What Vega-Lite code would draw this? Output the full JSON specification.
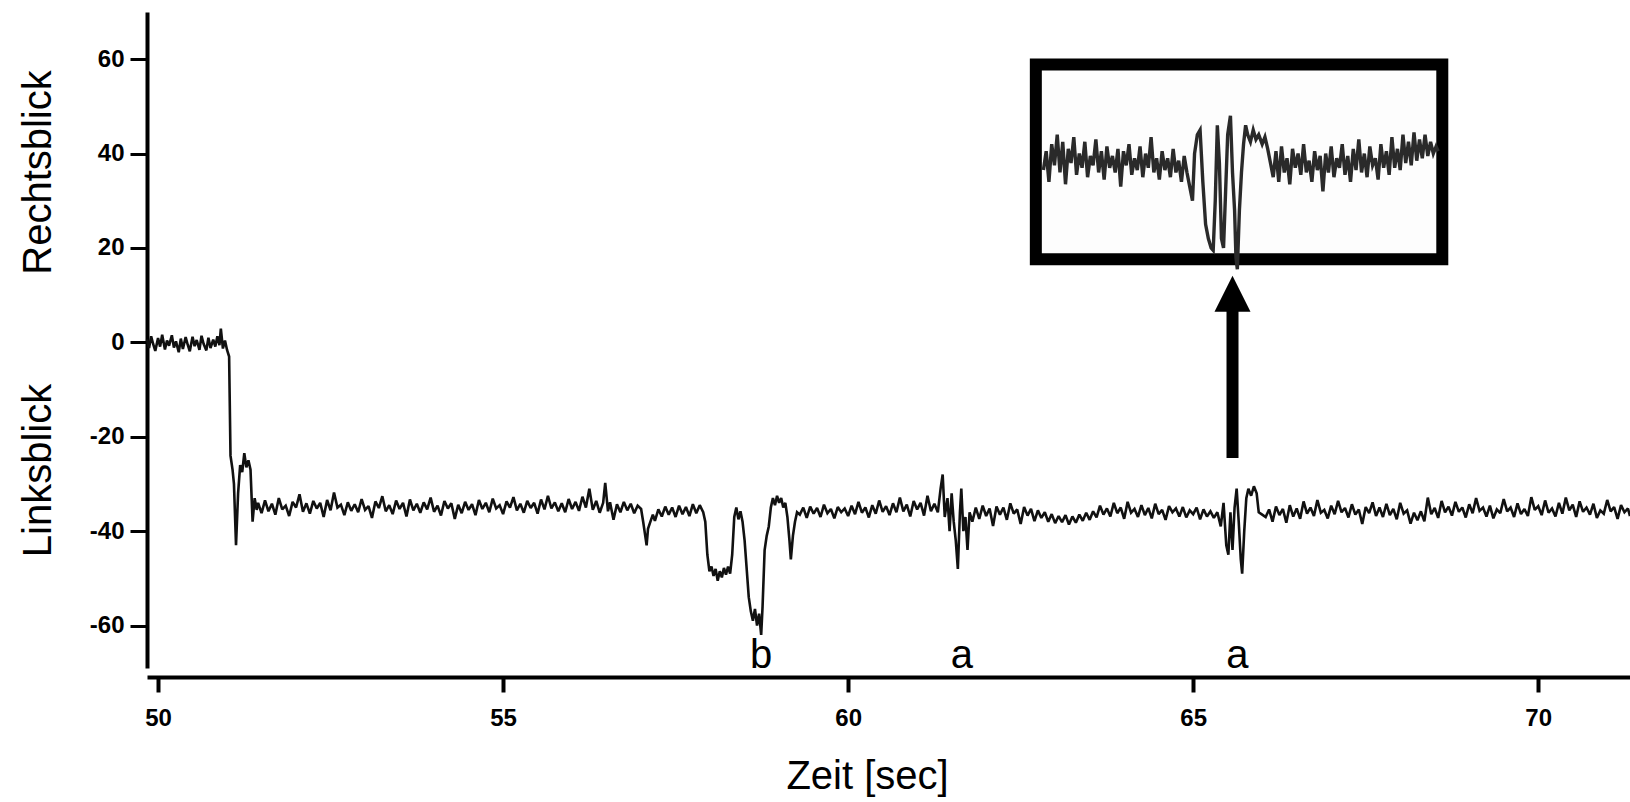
{
  "$schema": "https://vega.github.io/schema/vega-lite/v6.json",
  "width": 1483,
  "height": 656,
  "autosize": {"type": "none"},
  "padding": {"left": 147, "top": 12, "right": 0, "bottom": 134},
  "background": "white",
  "config": {
    "view": {"stroke": null},
    "axis": {"grid": false, "domainColor": "#000", "tickColor": "#000", "labelColor": "#000", "titleColor": "#000"},
    "axisX": {
      "offset": 9, "domainWidth": 4, "tickSize": 15, "tickWidth": 4,
      "labelFont": "Liberation Sans", "labelFontWeight": "bold", "labelFontSize": 24, "labelPadding": 14, "labelFlush": false,
      "titleFont": "Liberation Sans", "titleFontWeight": "normal", "titleFontSize": 40,
      "titleX": 720, "titleY": 111, "titleAlign": "center", "titleBaseline": "alphabetic"
    }
  },
  "datasets": {
    "main": [
      {"t":49.84,"v":0.6},{"t":49.87,"v":-1.2},{"t":49.9,"v":1.3},{"t":49.93,"v":-0.4},{"t":49.96,"v":-1.8},{"t":50.0,"v":0.9},{"t":50.03,"v":-0.9},{"t":50.06,"v":1.6},{"t":50.1,"v":-1.5},{"t":50.13,"v":0.4},{"t":50.16,"v":-0.7},{"t":50.2,"v":1.5},{"t":50.23,"v":-1.1},{"t":50.26,"v":0.2},{"t":50.3,"v":-2.1},{"t":50.33,"v":0.8},{"t":50.36,"v":-1.4},{"t":50.4,"v":1.1},{"t":50.43,"v":-0.5},{"t":50.46,"v":-1.9},{"t":50.5,"v":1.2},{"t":50.53,"v":-0.8},{"t":50.56,"v":0.5},{"t":50.6,"v":-1.6},{"t":50.63,"v":1.4},{"t":50.66,"v":-0.3},{"t":50.7,"v":-1.7},{"t":50.73,"v":1.0},{"t":50.76,"v":-1.2},{"t":50.8,"v":0.6},{"t":50.83,"v":-0.9},{"t":50.86,"v":1.3},{"t":50.89,"v":-0.6},{"t":50.91,"v":2.9},{"t":50.94,"v":-1.3},{"t":50.97,"v":0.4},{"t":51.0,"v":-1.6},
      {"t":51.03,"v":-3},{"t":51.05,"v":-24},{"t":51.08,"v":-27},{"t":51.1,"v":-30},{"t":51.13,"v":-43},{"t":51.16,"v":-32},{"t":51.19,"v":-26},{"t":51.22,"v":-27.5},{"t":51.25,"v":-23.5},{"t":51.28,"v":-26.5},{"t":51.31,"v":-25},{"t":51.34,"v":-27},{"t":51.37,"v":-38},{"t":51.4,"v":-33},{"t":51.43,"v":-35.5},
      {"t":51.45,"v":-34.0},{"t":51.5,"v":-36.2},{"t":51.55,"v":-33.5},{"t":51.6,"v":-35.8},{"t":51.65,"v":-34.2},{"t":51.7,"v":-36.5},{"t":51.75,"v":-33.0},{"t":51.8,"v":-35.4},{"t":51.85,"v":-34.6},{"t":51.9,"v":-36.8},{"t":51.95,"v":-33.8},{"t":52.0,"v":-35.0},{"t":52.05,"v":-32.2},{"t":52.1,"v":-35.9},{"t":52.15,"v":-34.1},{"t":52.2,"v":-36.3},{"t":52.25,"v":-33.6},{"t":52.3,"v":-35.2},{"t":52.35,"v":-34.0},{"t":52.4,"v":-37.0},{"t":52.45,"v":-33.4},{"t":52.5,"v":-35.6},{"t":52.55,"v":-31.8},{"t":52.6,"v":-35.0},{"t":52.65,"v":-34.4},{"t":52.7,"v":-36.6},{"t":52.75,"v":-33.9},{"t":52.8,"v":-35.7},{"t":52.85,"v":-34.3},{"t":52.9,"v":-36.0},{"t":52.95,"v":-33.2},{"t":53.0,"v":-35.5},{"t":53.05,"v":-34.7},{"t":53.1,"v":-37.2},{"t":53.15,"v":-33.7},{"t":53.2,"v":-35.1},{"t":53.25,"v":-32.6},{"t":53.3,"v":-35.8},{"t":53.35,"v":-34.5},{"t":53.4,"v":-36.4},{"t":53.45,"v":-33.5},{"t":53.5,"v":-35.3},{"t":53.55,"v":-34.0},{"t":53.6,"v":-36.9},{"t":53.65,"v":-33.3},{"t":53.7,"v":-35.6},{"t":53.75,"v":-34.2},{"t":53.8,"v":-36.1},{"t":53.85,"v":-33.9},{"t":53.9,"v":-35.4},{"t":53.95,"v":-32.9},{"t":54.0,"v":-35.9},{"t":54.05,"v":-34.6},{"t":54.1,"v":-36.7},{"t":54.15,"v":-33.6},{"t":54.2,"v":-35.2},{"t":54.25,"v":-34.1},{"t":54.3,"v":-37.4},{"t":54.35,"v":-34.4},{"t":54.4,"v":-36.2},{"t":54.45,"v":-33.8},{"t":54.5,"v":-35.5},{"t":54.55,"v":-34.3},{"t":54.6,"v":-36.6},{"t":54.65,"v":-33.4},{"t":54.7,"v":-35.3},{"t":54.75,"v":-34.0},{"t":54.8,"v":-36.0},{"t":54.85,"v":-33.1},{"t":54.9,"v":-35.2},{"t":54.95,"v":-34.5},{"t":55.0,"v":-36.4},{"t":55.05,"v":-33.7},{"t":55.1,"v":-35.0},{"t":55.15,"v":-32.8},{"t":55.2,"v":-35.6},{"t":55.25,"v":-34.2},{"t":55.3,"v":-36.1},{"t":55.35,"v":-33.6},{"t":55.4,"v":-35.1},{"t":55.45,"v":-34.0},{"t":55.5,"v":-36.3},{"t":55.55,"v":-33.3},{"t":55.6,"v":-35.4},{"t":55.65,"v":-32.5},{"t":55.7,"v":-35.2},{"t":55.75,"v":-33.9},{"t":55.8,"v":-35.8},{"t":55.85,"v":-34.1},{"t":55.9,"v":-36.0},{"t":55.95,"v":-33.2},{"t":56.0,"v":-35.3},{"t":56.05,"v":-33.8},{"t":56.1,"v":-35.7},{"t":56.15,"v":-32.7},{"t":56.2,"v":-35.0},{"t":56.25,"v":-31.0},{"t":56.3,"v":-35.5},{"t":56.35,"v":-33.6},{"t":56.4,"v":-36.1},{"t":56.45,"v":-34.0},{"t":56.48,"v":-29.8},{"t":56.52,"v":-35.8},{"t":56.55,"v":-33.9},{"t":56.6,"v":-37.6},{"t":56.65,"v":-34.3},{"t":56.7,"v":-36.0},{"t":56.75,"v":-33.8},{"t":56.8,"v":-35.6},{"t":56.85,"v":-34.2},{"t":56.9,"v":-36.2},{"t":56.95,"v":-34.6},{"t":57.0,"v":-35.3},
      {"t":57.03,"v":-38},{"t":57.06,"v":-41},{"t":57.08,"v":-43},{"t":57.1,"v":-39.5},{"t":57.13,"v":-38.2},{"t":57.17,"v":-36.5},{"t":57.2,"v":-37.8},{"t":57.25,"v":-35.4},{"t":57.3,"v":-36.9},{"t":57.35,"v":-34.8},{"t":57.4,"v":-36.5},{"t":57.45,"v":-35.0},{"t":57.5,"v":-37.0},{"t":57.55,"v":-34.6},{"t":57.6,"v":-36.4},{"t":57.65,"v":-34.9},{"t":57.7,"v":-36.8},{"t":57.75,"v":-34.3},{"t":57.8,"v":-36.2},{"t":57.85,"v":-34.5},{"t":57.9,"v":-36.0},
      {"t":57.93,"v":-38},{"t":57.96,"v":-45},{"t":57.99,"v":-48.5},{"t":58.02,"v":-47.5},{"t":58.05,"v":-49.5},{"t":58.08,"v":-48},{"t":58.11,"v":-50.5},{"t":58.14,"v":-48.5},{"t":58.17,"v":-49.8},{"t":58.2,"v":-47.8},{"t":58.23,"v":-49.2},{"t":58.26,"v":-47.5},{"t":58.29,"v":-49},{"t":58.32,"v":-45},{"t":58.35,"v":-37},{"t":58.38,"v":-35},{"t":58.41,"v":-37.5},{"t":58.44,"v":-35.8},{"t":58.47,"v":-38},{"t":58.5,"v":-42},{"t":58.53,"v":-48},{"t":58.56,"v":-54},{"t":58.59,"v":-57},{"t":58.62,"v":-59},{"t":58.65,"v":-56.5},{"t":58.68,"v":-60},{"t":58.71,"v":-57.5},{"t":58.74,"v":-62},{"t":58.76,"v":-56},{"t":58.79,"v":-44},{"t":58.82,"v":-41},{"t":58.85,"v":-39},{"t":58.88,"v":-35},{"t":58.91,"v":-33},{"t":58.94,"v":-34.5},{"t":58.97,"v":-32.5},{"t":59.0,"v":-34},{"t":59.03,"v":-33},{"t":59.06,"v":-35},{"t":59.09,"v":-34},{"t":59.12,"v":-37},{"t":59.15,"v":-42},{"t":59.17,"v":-46},{"t":59.2,"v":-41},{"t":59.23,"v":-38},{"t":59.26,"v":-36},
      {"t":59.3,"v":-36.5},{"t":59.35,"v":-35.0},{"t":59.4,"v":-37.2},{"t":59.45,"v":-34.8},{"t":59.5,"v":-36.3},{"t":59.55,"v":-35.1},{"t":59.6,"v":-37.0},{"t":59.65,"v":-34.4},{"t":59.7,"v":-36.2},{"t":59.75,"v":-35.3},{"t":59.8,"v":-37.3},{"t":59.85,"v":-34.9},{"t":59.9,"v":-36.0},{"t":59.95,"v":-35.2},{"t":60.0,"v":-36.8},{"t":60.05,"v":-34.6},{"t":60.1,"v":-36.4},{"t":60.15,"v":-33.8},{"t":60.2,"v":-36.1},{"t":60.25,"v":-35.0},{"t":60.3,"v":-37.1},{"t":60.35,"v":-34.5},{"t":60.4,"v":-36.3},{"t":60.45,"v":-33.5},{"t":60.5,"v":-35.9},{"t":60.55,"v":-34.7},{"t":60.6,"v":-36.6},{"t":60.65,"v":-34.1},{"t":60.7,"v":-36.0},{"t":60.75,"v":-32.9},{"t":60.8,"v":-35.8},{"t":60.85,"v":-34.4},{"t":60.9,"v":-36.9},{"t":60.95,"v":-33.6},{"t":61.0,"v":-35.4},{"t":61.05,"v":-34.0},{"t":61.1,"v":-36.7},{"t":61.15,"v":-32.5},{"t":61.2,"v":-35.8},{"t":61.25,"v":-34.2},{"t":61.3,"v":-36.0},
      {"t":61.34,"v":-31},{"t":61.37,"v":-28},{"t":61.4,"v":-37},{"t":61.44,"v":-33},{"t":61.47,"v":-40},{"t":61.5,"v":-32},{"t":61.53,"v":-38},{"t":61.56,"v":-42},{"t":61.59,"v":-48},{"t":61.62,"v":-36},{"t":61.64,"v":-31},{"t":61.67,"v":-40},{"t":61.7,"v":-37},{"t":61.73,"v":-44},{"t":61.76,"v":-36},{"t":61.8,"v":-38},
      {"t":61.85,"v":-35.0},{"t":61.9,"v":-37.4},{"t":61.95,"v":-34.6},{"t":62.0,"v":-36.8},{"t":62.05,"v":-35.2},{"t":62.1,"v":-38.9},{"t":62.15,"v":-34.8},{"t":62.2,"v":-36.5},{"t":62.25,"v":-35.0},{"t":62.3,"v":-37.6},{"t":62.35,"v":-34.1},{"t":62.4,"v":-36.3},{"t":62.45,"v":-35.4},{"t":62.5,"v":-38.5},{"t":62.55,"v":-34.9},{"t":62.6,"v":-36.7},{"t":62.65,"v":-35.3},{"t":62.7,"v":-37.9},{"t":62.75,"v":-35.6},{"t":62.8,"v":-37.2},{"t":62.85,"v":-36.0},{"t":62.9,"v":-38.0},{"t":62.95,"v":-36.4},{"t":63.0,"v":-38.3},{"t":63.05,"v":-36.8},{"t":63.1,"v":-38.1},{"t":63.15,"v":-36.6},{"t":63.2,"v":-38.6},{"t":63.25,"v":-36.9},{"t":63.3,"v":-38.2},{"t":63.35,"v":-36.5},{"t":63.4,"v":-37.8},{"t":63.45,"v":-36.1},{"t":63.5,"v":-37.6},{"t":63.55,"v":-35.8},{"t":63.6,"v":-37.1},{"t":63.65,"v":-34.6},{"t":63.7,"v":-36.5},{"t":63.75,"v":-35.2},{"t":63.8,"v":-36.9},{"t":63.85,"v":-34.0},{"t":63.9,"v":-36.2},{"t":63.95,"v":-35.0},{"t":64.0,"v":-37.4},{"t":64.05,"v":-33.8},{"t":64.1,"v":-36.1},{"t":64.15,"v":-35.3},{"t":64.2,"v":-37.0},{"t":64.25,"v":-34.5},{"t":64.3,"v":-36.6},{"t":64.35,"v":-35.1},{"t":64.4,"v":-37.3},{"t":64.45,"v":-34.2},{"t":64.5,"v":-36.4},{"t":64.55,"v":-35.5},{"t":64.6,"v":-37.6},{"t":64.65,"v":-34.7},{"t":64.7,"v":-36.0},{"t":64.75,"v":-35.2},{"t":64.8,"v":-36.9},{"t":64.85,"v":-34.9},{"t":64.9,"v":-37.1},{"t":64.95,"v":-35.6},{"t":65.0,"v":-36.4},{"t":65.05,"v":-35.0},{"t":65.1,"v":-37.5},{"t":65.15,"v":-35.4},{"t":65.2,"v":-36.9},{"t":65.25,"v":-35.8},{"t":65.3,"v":-37.2},
      {"t":65.35,"v":-36},{"t":65.4,"v":-39},{"t":65.44,"v":-34},{"t":65.48,"v":-43},{"t":65.51,"v":-45},{"t":65.54,"v":-36},{"t":65.57,"v":-44},{"t":65.6,"v":-35},{"t":65.63,"v":-31},{"t":65.66,"v":-38},{"t":65.69,"v":-46},{"t":65.71,"v":-49},{"t":65.74,"v":-40},{"t":65.77,"v":-33},{"t":65.8,"v":-31},{"t":65.84,"v":-32.5},{"t":65.88,"v":-30.5},{"t":65.92,"v":-32},{"t":65.95,"v":-36},{"t":66.0,"v":-36.5},
      {"t":66.05,"v":-37.0},{"t":66.1,"v":-35.4},{"t":66.15,"v":-38.0},{"t":66.2,"v":-34.8},{"t":66.25,"v":-36.6},{"t":66.3,"v":-35.3},{"t":66.35,"v":-38.2},{"t":66.4,"v":-34.5},{"t":66.45,"v":-36.9},{"t":66.5,"v":-35.2},{"t":66.55,"v":-37.4},{"t":66.6,"v":-33.7},{"t":66.65,"v":-36.3},{"t":66.7,"v":-35.0},{"t":66.75,"v":-36.8},{"t":66.8,"v":-33.4},{"t":66.85,"v":-36.1},{"t":66.9,"v":-35.5},{"t":66.95,"v":-37.3},{"t":67.0,"v":-34.6},{"t":67.05,"v":-36.4},{"t":67.1,"v":-33.6},{"t":67.15,"v":-36.0},{"t":67.2,"v":-35.1},{"t":67.25,"v":-37.1},{"t":67.3,"v":-34.3},{"t":67.35,"v":-36.5},{"t":67.4,"v":-35.4},{"t":67.45,"v":-38.5},{"t":67.5,"v":-34.9},{"t":67.55,"v":-36.2},{"t":67.6,"v":-33.9},{"t":67.65,"v":-36.8},{"t":67.7,"v":-35.0},{"t":67.75,"v":-37.0},{"t":67.8,"v":-34.2},{"t":67.85,"v":-36.6},{"t":67.9,"v":-35.3},{"t":67.95,"v":-37.5},{"t":68.0,"v":-34.0},{"t":68.05,"v":-36.3},{"t":68.1,"v":-35.6},{"t":68.15,"v":-38.4},{"t":68.2,"v":-36.1},{"t":68.25,"v":-37.7},{"t":68.3,"v":-35.8},{"t":68.35,"v":-37.9},{"t":68.4,"v":-32.9},{"t":68.45,"v":-36.4},{"t":68.5,"v":-35.1},{"t":68.55,"v":-37.2},{"t":68.6,"v":-33.6},{"t":68.65,"v":-36.0},{"t":68.7,"v":-34.8},{"t":68.75,"v":-36.7},{"t":68.8,"v":-33.8},{"t":68.85,"v":-35.9},{"t":68.9,"v":-35.0},{"t":68.95,"v":-37.1},{"t":69.0,"v":-34.3},{"t":69.05,"v":-36.2},{"t":69.1,"v":-33.0},{"t":69.15,"v":-35.7},{"t":69.2,"v":-35.0},{"t":69.25,"v":-36.9},{"t":69.3,"v":-34.6},{"t":69.35,"v":-37.3},{"t":69.4,"v":-35.4},{"t":69.45,"v":-36.2},{"t":69.5,"v":-33.2},{"t":69.55,"v":-35.8},{"t":69.6,"v":-35.0},{"t":69.65,"v":-37.0},{"t":69.7,"v":-34.1},{"t":69.75,"v":-36.4},{"t":69.8,"v":-35.3},{"t":69.85,"v":-36.8},{"t":69.9,"v":-32.8},{"t":69.95,"v":-35.5},{"t":70.0,"v":-34.7},{"t":70.05,"v":-36.6},{"t":70.1,"v":-33.5},{"t":70.15,"v":-36.1},{"t":70.2,"v":-35.2},{"t":70.25,"v":-36.9},{"t":70.3,"v":-34.0},{"t":70.35,"v":-36.3},{"t":70.4,"v":-32.9},{"t":70.45,"v":-35.6},{"t":70.5,"v":-34.4},{"t":70.55,"v":-37.0},{"t":70.6,"v":-33.7},{"t":70.65,"v":-35.9},{"t":70.7,"v":-35.0},{"t":70.75,"v":-36.5},{"t":70.8,"v":-34.2},{"t":70.85,"v":-37.2},{"t":70.9,"v":-35.6},{"t":70.95,"v":-36.3},{"t":71.0,"v":-33.4},{"t":71.05,"v":-35.8},{"t":71.1,"v":-34.9},{"t":71.15,"v":-37.4},{"t":71.2,"v":-34.5},{"t":71.25,"v":-36.0},{"t":71.3,"v":-35.2},{"t":71.33,"v":-36.8}
    ],
    "inset": [
      {"t":62.83,"v":36.5},{"t":62.87,"v":40.5},{"t":62.91,"v":34.0},{"t":62.95,"v":42.0},{"t":62.99,"v":37.5},{"t":63.03,"v":44.0},{"t":63.07,"v":36.0},{"t":63.11,"v":42.5},{"t":63.15,"v":33.5},{"t":63.19,"v":41.0},{"t":63.23,"v":38.0},{"t":63.27,"v":43.5},{"t":63.31,"v":35.5},{"t":63.35,"v":40.0},{"t":63.39,"v":37.0},{"t":63.43,"v":42.5},{"t":63.47,"v":35.0},{"t":63.51,"v":39.5},{"t":63.55,"v":37.5},{"t":63.59,"v":43.0},{"t":63.63,"v":36.0},{"t":63.67,"v":40.5},{"t":63.71,"v":34.5},{"t":63.75,"v":41.5},{"t":63.79,"v":37.0},{"t":63.83,"v":39.5},{"t":63.87,"v":36.0},{"t":63.91,"v":41.0},{"t":63.95,"v":33.0},{"t":63.99,"v":40.5},{"t":64.03,"v":37.5},{"t":64.07,"v":42.0},{"t":64.11,"v":35.5},{"t":64.15,"v":39.0},{"t":64.19,"v":36.5},{"t":64.23,"v":41.5},{"t":64.27,"v":35.0},{"t":64.31,"v":40.0},{"t":64.35,"v":37.0},{"t":64.39,"v":43.5},{"t":64.43,"v":36.0},{"t":64.47,"v":39.0},{"t":64.51,"v":34.5},{"t":64.55,"v":40.5},{"t":64.59,"v":36.5},{"t":64.63,"v":39.0},{"t":64.67,"v":35.0},{"t":64.71,"v":41.0},{"t":64.75,"v":36.0},{"t":64.79,"v":38.5},{"t":64.83,"v":34.0},{"t":64.87,"v":39.5},{"t":64.91,"v":36.0},
      {"t":64.95,"v":33},{"t":64.99,"v":30},{"t":65.02,"v":40},{"t":65.06,"v":44},{"t":65.1,"v":45},{"t":65.14,"v":34},{"t":65.18,"v":25},{"t":65.22,"v":22},{"t":65.26,"v":20},{"t":65.29,"v":19.5},{"t":65.32,"v":30},{"t":65.35,"v":46},{"t":65.38,"v":38},{"t":65.41,"v":22},{"t":65.44,"v":20},{"t":65.47,"v":32},{"t":65.5,"v":44},{"t":65.54,"v":48},{"t":65.57,"v":36},{"t":65.6,"v":28},{"t":65.62,"v":18},{"t":65.64,"v":15.5},{"t":65.67,"v":28},{"t":65.7,"v":36},{"t":65.73,"v":42},{"t":65.76,"v":46},{"t":65.79,"v":44},{"t":65.83,"v":42.5},{"t":65.87,"v":45},{"t":65.91,"v":43},{"t":65.95,"v":44},{"t":66.0,"v":42},{"t":66.04,"v":43.5},{"t":66.08,"v":41},{"t":66.12,"v":38},
      {"t":66.16,"v":35.0},{"t":66.2,"v":40.5},{"t":66.24,"v":34.0},{"t":66.28,"v":41.5},{"t":66.32,"v":36.0},{"t":66.36,"v":39.0},{"t":66.4,"v":33.5},{"t":66.44,"v":41.0},{"t":66.48,"v":37.0},{"t":66.52,"v":40.0},{"t":66.56,"v":35.5},{"t":66.6,"v":42.0},{"t":66.64,"v":36.0},{"t":66.68,"v":38.5},{"t":66.72,"v":34.0},{"t":66.76,"v":40.5},{"t":66.8,"v":36.5},{"t":66.84,"v":39.5},{"t":66.88,"v":32.0},{"t":66.92,"v":40.0},{"t":66.96,"v":36.0},{"t":67.0,"v":41.5},{"t":67.04,"v":35.0},{"t":67.08,"v":39.0},{"t":67.12,"v":37.0},{"t":67.16,"v":42.0},{"t":67.2,"v":35.5},{"t":67.24,"v":39.5},{"t":67.28,"v":34.0},{"t":67.32,"v":41.0},{"t":67.36,"v":36.5},{"t":67.4,"v":43.0},{"t":67.44,"v":36.0},{"t":67.48,"v":40.0},{"t":67.52,"v":35.0},{"t":67.56,"v":41.5},{"t":67.6,"v":37.5},{"t":67.64,"v":39.0},{"t":67.68,"v":34.5},{"t":67.72,"v":42.0},{"t":67.76,"v":37.0},{"t":67.8,"v":40.5},{"t":67.84,"v":35.5},{"t":67.88,"v":43.5},{"t":67.92,"v":37.0},{"t":67.96,"v":41.0},{"t":68.0,"v":36.5},{"t":68.04,"v":44.0},{"t":68.08,"v":38.0},{"t":68.12,"v":42.5},{"t":68.16,"v":37.5},{"t":68.2,"v":44.5},{"t":68.24,"v":38.5},{"t":68.28,"v":43.0},{"t":68.32,"v":39.0},{"t":68.36,"v":44.0},{"t":68.4,"v":39.5},{"t":68.44,"v":42.5},{"t":68.48,"v":40.0},{"t":68.52,"v":41.5},{"t":68.55,"v":40.5}
    ],
    "box": [{"t1": 62.72, "t2": 68.61, "v1": 17.6, "v2": 58.9}],
    "arrow": [{"t": 65.57, "v1": -24.5, "v2": 8.9, "tip": 10.3}],
    "notes": [
      {"t": 58.74, "v": -69.1, "label": "b"},
      {"t": 61.65, "v": -69.1, "label": "a"},
      {"t": 65.64, "v": -69.1, "label": "a"}
    ]
  },
  "resolve": {"axis": {"y": "independent"}},
  "layer": [
    {
      "data": {"name": "main"},
      "mark": {"type": "line", "color": "#111", "strokeWidth": 2.6, "strokeJoin": "miter", "strokeMiterLimit": 2},
      "encoding": {
        "x": {
          "field": "t", "type": "quantitative",
          "scale": {"domain": [49.84, 71.33], "nice": false, "zero": false},
          "axis": {"values": [50, 55, 60, 65, 70], "title": "Zeit [sec]"}
        },
        "y": {
          "field": "v", "type": "quantitative",
          "scale": {"domain": [-69, 70], "nice": false, "zero": false},
          "axis": {
            "orient": "left", "values": [-60, -40, -20, 0, 20, 40, 60], "domainWidth": 4, "tickSize": 17, "tickWidth": 3,
            "labelFont": "Liberation Sans", "labelFontWeight": "bold", "labelFontSize": 24, "labelPadding": 6,
            "labelExpr": "replace(datum.label, '\u2212', '-')",
            "title": "Rechtsblick", "titleFont": "Liberation Sans", "titleFontWeight": "normal", "titleFontSize": 40,
            "titleAngle": 270, "titleX": -97, "titleY": 160, "titleAlign": "center", "titleBaseline": "alphabetic"
          }
        }
      }
    },
    {
      "data": {"name": "box"},
      "mark": {"type": "rect", "fill": "#fdfdfd", "stroke": "#000", "strokeWidth": 12},
      "encoding": {
        "x": {"field": "t1", "type": "quantitative", "axis": {"values": [50, 55, 60, 65, 70], "title": "Zeit [sec]"}},
        "x2": {"field": "t2"},
        "y": {"field": "v1", "type": "quantitative", "axis": null},
        "y2": {"field": "v2"}
      }
    },
    {
      "data": {"name": "inset"},
      "mark": {"type": "line", "color": "#2a2a2a", "strokeWidth": 3.4},
      "encoding": {
        "x": {"field": "t", "type": "quantitative", "axis": {"values": [50, 55, 60, 65, 70], "title": "Zeit [sec]"}},
        "y": {
          "field": "v", "type": "quantitative",
          "axis": {
            "orient": "left", "labels": false, "ticks": false, "domain": false,
            "title": "Linksblick", "titleFont": "Liberation Sans", "titleFontWeight": "normal", "titleFontSize": 40,
            "titleAngle": 270, "titleX": -97, "titleY": 458, "titleAlign": "center", "titleBaseline": "alphabetic"
          }
        }
      }
    },
    {
      "data": {"name": "arrow"},
      "mark": {"type": "rule", "color": "#000", "strokeWidth": 12, "strokeCap": "butt"},
      "encoding": {
        "x": {"field": "t", "type": "quantitative", "axis": {"values": [50, 55, 60, 65, 70], "title": "Zeit [sec]"}},
        "y": {"field": "v1", "type": "quantitative", "axis": null},
        "y2": {"field": "v2"}
      }
    },
    {
      "data": {"name": "arrow"},
      "mark": {"type": "point", "shape": "M-1,1L0,-1L1,1Z", "size": 1296, "filled": true, "color": "#000", "opacity": 1, "strokeWidth": 0},
      "encoding": {
        "x": {"field": "t", "type": "quantitative", "axis": {"values": [50, 55, 60, 65, 70], "title": "Zeit [sec]"}},
        "y": {"field": "tip", "type": "quantitative", "axis": null}
      }
    },
    {
      "data": {"name": "notes"},
      "mark": {"type": "text", "font": "Liberation Sans", "fontSize": 40, "align": "center", "baseline": "alphabetic", "color": "#000"},
      "encoding": {
        "x": {"field": "t", "type": "quantitative", "axis": {"values": [50, 55, 60, 65, 70], "title": "Zeit [sec]"}},
        "y": {"field": "v", "type": "quantitative", "axis": null},
        "text": {"field": "label"}
      }
    }
  ]
}
